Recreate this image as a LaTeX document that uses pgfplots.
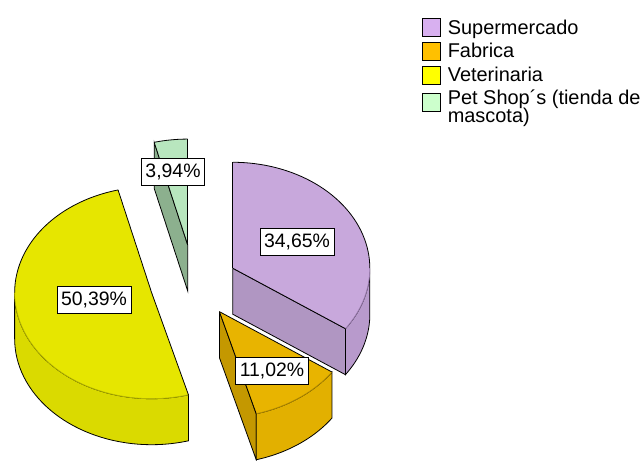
\documentclass[border=0pt]{standalone}
\usepackage{fontspec}
\setmainfont{Liberation Sans}
\usepackage{pgfplots}
\pgfplotsset{compat=1.18}

\definecolor{supTop}{RGB}{200,168,220}
\definecolor{supSide}{RGB}{176,150,194}
\definecolor{supWall}{RGB}{184,154,204}
\definecolor{supEdge}{RGB}{150,120,170}
\definecolor{fabTop}{RGB}{232,180,0}
\definecolor{fabSide}{RGB}{196,152,0}
\definecolor{fabWall}{RGB}{226,176,0}
\definecolor{fabEdge}{RGB}{180,140,0}
\definecolor{vetTop}{RGB}{230,230,0}
\definecolor{vetWall}{RGB}{218,218,0}
\definecolor{vetEdge}{RGB}{180,180,0}
\definecolor{petTop}{RGB}{184,230,190}
\definecolor{petSide}{RGB}{140,176,142}
\definecolor{supL}{RGB}{216,176,240}
\definecolor{fabL}{RGB}{255,192,0}
\definecolor{vetL}{RGB}{255,255,0}
\definecolor{petL}{RGB}{204,255,204}

% data (percent)
\def\vSup{34.65}
\def\vFab{11.02}
\def\vVet{50.39}
\def\vPet{3.94}

% geometry
\def\ra{137}
\def\rb{106}
\def\hh{46}
\def\ox{194}
\def\oy{-284}

\newcommand\wall[5]{% cx cy w1 w2 color
  \addplot[forget plot, fill=#5, draw=black, line width=0.8bp, samples at={0,1,...,82}, variable=\t]
  ({#1+\ra*cos(\t<=40 ? #3+\t*(#4-#3)/40 : (\t<=81 ? #4-(\t-41)*(#4-#3)/40 : #3))},
   {#2+\rb*sin(\t<=40 ? #3+\t*(#4-#3)/40 : (\t<=81 ? #4-(\t-41)*(#4-#3)/40 : #3)) - ((\t>40 && \t<=81) ? \hh : 0)});
}
\newcommand\rface[4]{% cx cy ang color
  \addplot[forget plot, fill=#4, draw=black, line width=0.8bp, samples at={0,1,2,3,4}, variable=\t]
  ({#1 + ((\t==1 || \t==2) ? \ra*cos(#3) : 0)},
   {#2 + ((\t==1 || \t==2) ? \rb*sin(#3) : 0) - ((\t==2 || \t==3) ? \hh : 0)});
}
\newcommand\topface[5]{% cx cy lo hi color
  \addplot[forget plot, fill=#5, draw=none, samples at={-1,0,1,...,60,61}, variable=\t]
  ({(\t<0 || \t>60) ? #1 : #1+\ra*cos(#3+\t*(#4-#3)/60)},
   {(\t<0 || \t>60) ? #2 : #2+\rb*sin(#3+\t*(#4-#3)/60)});
}
\newcommand\arcline[5]{% cx cy a1 a2 color
  \addplot[forget plot, draw=#5, line width=0.8bp, samples=40, domain=#3:#4, variable=\t]
  ({#1+\ra*cos(\t)},{#2+\rb*sin(\t)});
}
\newcommand\radius[3]{% cx cy ang
  \addplot[forget plot, draw=black, line width=0.8bp, samples at={0,1}, variable=\t]
  ({#1+\t*\ra*cos(#3)},{#2+\t*\rb*sin(#3)});
}
\newcommand\lstrut{\rule[-5.5bp]{0pt}{20.5bp}}

\begin{document}
\begin{tikzpicture}
\pgfmathsetmacro\aA{90}
\pgfmathsetmacro\aB{\aA-3.6*\vSup}
\pgfmathsetmacro\aC{\aB-3.6*\vFab}
\pgfmathsetmacro\aD{\aC-3.6*\vVet}
\pgfmathsetmacro\aE{\aD-3.6*\vPet}
% slice centres (exploded)
\pgfmathsetmacro\sx{\ox+0.32*\ra*cos((\aA+\aB)/2)}
\pgfmathsetmacro\sy{\oy+0.32*\rb*sin((\aA+\aB)/2)}
\pgfmathsetmacro\fx{\ox+0.32*\ra*cos((\aB+\aC)/2)}
\pgfmathsetmacro\fy{\oy+0.32*\rb*sin((\aB+\aC)/2)}
\pgfmathsetmacro\vx{\ox+0.32*\ra*cos((\aC+\aD)/2)}
\pgfmathsetmacro\vy{\oy+0.32*\rb*sin((\aC+\aD)/2)}
\pgfmathsetmacro\px{\ox+0.37*\ra*cos((\aD+\aE)/2)}
\pgfmathsetmacro\py{\oy+0.37*\rb*sin((\aD+\aE)/2)}
\begin{axis}[
  width=643bp, height=457bp, scale only axis,
  xmin=0, xmax=643, ymin=-457, ymax=0,
  hide axis, clip=false,
  legend style={at={(axis cs:422,-18)}, anchor=north west, draw=none, fill=none,
    font=\fontsize{20}{22}\selectfont, row sep=5bp, column sep=7bp,
    inner sep=0pt, outer sep=0pt,
    nodes={inner sep=0pt, outer sep=0pt}, cells={anchor=west}},
  legend image code/.code={\draw[#1,draw=black,line width=0.8bp] (0bp,-9bp) rectangle (18bp,9bp);},
]
\path[draw=none] (rel axis cs:0,0) rectangle (rel axis cs:1,1);
% Pet shop (back)
\rface{\px}{\py}{\aD}{petSide}
\topface{\px}{\py}{\aE}{\aD}{petTop}
\arcline{\px}{\py}{\aE}{\aD}{black}
\radius{\px}{\py}{\aD}
\radius{\px}{\py}{\aE}
% Veterinaria
\wall{\vx}{\vy}{-180}{\aC}{vetWall}
\topface{\vx}{\vy}{\aD}{\aC}{vetTop}
\arcline{\vx}{\vy}{\aD}{-180}{black}
\arcline{\vx}{\vy}{-180}{\aC}{vetEdge}
\radius{\vx}{\vy}{\aC}
\radius{\vx}{\vy}{\aD}
% Supermercado
\rface{\sx}{\sy}{\aB}{supSide}
\wall{\sx}{\sy}{\aB}{0}{supWall}
\topface{\sx}{\sy}{\aB}{\aA}{supTop}
\arcline{\sx}{\sy}{0}{\aA}{black}
\arcline{\sx}{\sy}{\aB}{0}{supEdge}
\radius{\sx}{\sy}{\aA}
\radius{\sx}{\sy}{\aB}
% Fabrica
\rface{\fx}{\fy}{\aC}{fabSide}
\wall{\fx}{\fy}{\aC}{\aB}{fabWall}
\topface{\fx}{\fy}{\aC}{\aB}{fabTop}
\arcline{\fx}{\fy}{\aC}{\aB}{fabEdge}
\radius{\fx}{\fy}{\aB}
\radius{\fx}{\fy}{\aC}
% labels
\tikzset{lab/.style={draw=black, fill=white, line width=0.8bp, font=\fontsize{19.5}{21}\selectfont,
  inner xsep=4bp, inner ysep=0bp, minimum height=27bp}}
\node[lab] at (axis cs:173,-172) {3,94\%};
\node[lab] at (axis cs:94,-300) {50,39\%};
\node[lab] at (axis cs:297,-242) {34,65\%};
\node[lab] at (axis cs:272,-371) {11,02\%};
% legend
\addlegendimage{fill=supL}
\addlegendentry{\lstrut Supermercado}
\addlegendimage{fill=fabL}
\addlegendentry{\lstrut Fabrica}
\addlegendimage{fill=vetL}
\addlegendentry{\lstrut Veterinaria}
\addlegendimage{fill=petL}
\addlegendentry{$\vcenter{\baselineskip=18.5bp\lineskiplimit=-20bp\hbox{Pet Shop´s (tienda de}\hbox{mascota)}}$}
\end{axis}
\end{tikzpicture}
\end{document}
